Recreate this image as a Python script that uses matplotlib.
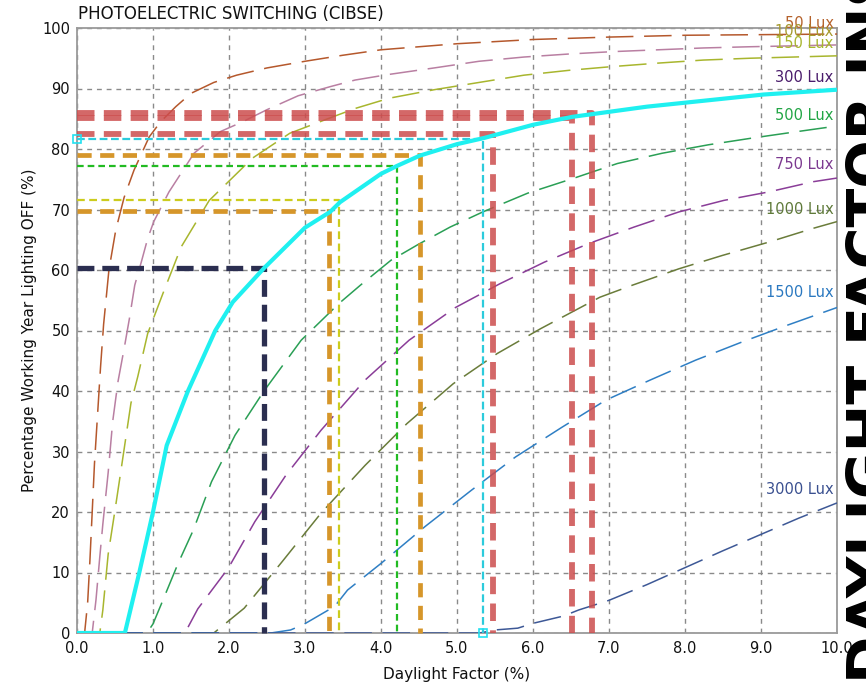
import matplotlib
matplotlib.use("Agg")
import matplotlib.pyplot as plt

# ---------------- data ----------------
df_50 = [0, 0.10, 0.14, 0.17, 0.20, 0.23, 0.27, 0.31, 0.35, 0.42, 0.51, 0.62, 0.75, 0.95, 1.10, 1.30,
         1.50, 1.80, 2.10, 2.50, 3.00, 3.50, 4.00, 5.00, 6.00, 7.00, 8.00, 9.00, 10.0]
pct_50 = [0, 0, 5, 12, 20, 28, 36, 44, 51, 60, 66.6, 72, 76.5, 82, 84.5, 87,
          89.2, 91, 92.2, 93.4, 94.5, 95.5, 96.4, 97.4, 98.1, 98.5, 98.8, 98.9, 99.0]

df_100 = [0, 0.20, 0.25, 0.30, 0.34, 0.41, 0.47, 0.54, 0.62, 0.69, 0.76, 0.85, 0.93, 1.01, 1.21, 1.37,
          1.54, 1.89, 2.18, 2.50, 2.91, 3.33, 3.66, 4.09, 4.70, 5.29, 5.88, 6.47, 7.06, 7.65, 8.24, 8.85, 10.0]
pct_100 = [0, 0, 5.5, 12.6, 18, 26.5, 35, 41.6, 47, 52, 57.5, 61.5, 65.2, 68, 72.9, 76,
           79.3, 82.9, 84.5, 86.5, 88.8, 90.3, 91.4, 92.3, 93.4, 94.5, 95.2, 95.7, 96.1, 96.4, 96.7, 96.9, 97.2]

df_150 = [0, 0.30, 0.34, 0.41, 0.50, 0.58, 0.71, 0.80, 0.93, 1.13, 1.37, 1.74, 2.31, 2.80, 3.30, 3.66,
          4.11, 4.70, 5.29, 5.88, 6.47, 7.02, 7.65, 8.24, 8.85, 10.0]
pct_150 = [0, 0, 3.8, 13, 20.3, 27, 38, 42.4, 49.5, 56.1, 63.8, 71.5, 78.5, 82.6, 85, 86.7,
           88.4, 89.8, 91, 92.2, 93, 93.6, 94.2, 94.7, 95, 95.4]

df_300 = [0, 0.63, 0.82, 1.00, 1.18, 1.46, 1.82, 2.05, 2.46, 3.00, 3.33, 3.46, 4.00, 4.21, 4.51,
          5.00, 5.35, 6.00, 6.51, 7.50, 9.03, 10.0]
pct_300 = [0, 0, 10, 20, 31, 40, 50, 54.7, 60.3, 67, 69.6, 71.2, 75.9, 77.2, 78.9,
           80.8, 81.8, 84, 85.3, 87, 89, 89.8]

df_500 = [0, 0.92, 1.00, 1.10, 1.33, 1.53, 1.77, 2.08, 2.46, 2.95, 3.45, 3.73, 4.13, 4.50, 4.91,
          5.34, 5.93, 6.52, 7.11, 7.70, 8.31, 8.88, 9.49, 10.0]
pct_500 = [0, 0, 1.5, 4.5, 11.5, 17, 25, 32.7, 40, 48.4, 54.5, 57.5, 61.6, 64.3, 67.1,
           69.6, 72.7, 75.1, 77.6, 79.3, 80.7, 81.8, 82.9, 83.8]

df_750 = [0, 1.42, 1.59, 1.99, 2.34, 2.75, 3.21, 3.79, 4.37, 4.98, 5.56, 6.15, 6.74, 7.33, 7.92,
          8.51, 9.10, 9.69, 10.0]
pct_750 = [0, 0, 4, 10.7, 18.4, 26.1, 33.5, 41.8, 48.4, 53.8, 57.7, 61.3, 64.4, 67.1, 69.6,
           71.5, 72.9, 74.6, 75.2]

df_1000 = [0, 1.80, 2.20, 2.70, 3.21, 3.79, 4.34, 4.95, 5.53, 6.10, 6.88, 7.31, 7.92, 8.49, 9.10, 9.69, 10.0]
pct_1000 = [0, 0, 4.1, 11.8, 19.8, 27.7, 34.6, 41.2, 46.2, 50.3, 55.5, 57.5, 60.2, 62.4, 64.6, 66.9, 68]

df_1500 = [0, 2.55, 2.81, 2.98, 3.39, 3.56, 4.00, 4.58, 5.19, 5.77, 6.38, 6.96, 7.54, 8.14, 8.75, 9.33, 10.0]
pct_1500 = [0, 0, 0.5, 1.4, 4.4, 7.1, 11.5, 17.6, 23.6, 29.1, 34, 38.5, 41.8, 45.1, 48.1, 50.8, 53.8]

df_3000 = [0, 5.30, 5.50, 5.80, 6.00, 6.40, 6.60, 7.00, 7.50, 8.00, 8.50, 9.00, 9.50, 10.0]
pct_3000 = [0, 0, 0.5, 0.8, 1.6, 2.8, 3.8, 5.4, 8.0, 10.8, 13.6, 16.3, 19.0, 21.5]

lux_names = ["50 Lux", "100 Lux", "150 Lux", "300 Lux", "500 Lux", "750 Lux",
             "1000 Lux", "1500 Lux", "3000 Lux"]

# reference (read-off) lines: daylight factor and percentage
ref_df = [2.46, 3.32, 3.45, 4.21, 4.51, 5.34, 5.48, 6.51, 6.78]
ref_pct = [60.4, 69.7, 71.5, 77.2, 79.0, 81.6, 82.5, 85.2, 85.9]

x_ticks = [0, 1, 2, 3, 4, 5, 6, 7, 8, 9, 10]
x_tick_labels = ["0.0", "1.0", "2.0", "3.0", "4.0", "5.0", "6.0", "7.0", "8.0", "9.0", "10.0"]
y_ticks = [0, 10, 20, 30, 40, 50, 60, 70, 80, 90, 100]

title = "PHOTOELECTRIC SWITCHING (CIBSE)"
xlabel = "Daylight Factor (%)"
ylabel = "Percentage Working Year Lighting OFF (%)"
side_text = "DAYLIGHT FACTOR INS"

# ---------------- figure ----------------
W, H, DPI = 866, 685, 100
fig = plt.figure(figsize=(W / DPI, H / DPI), dpi=DPI)
fig.patch.set_facecolor("white")
L, R, T, B = 77, 837, 28, 633
ax = fig.add_axes([L / W, (H - B) / H, (R - L) / W, (B - T) / H])
ax.set_xlim(0, 10)
ax.set_ylim(0, 100)

for s in ax.spines.values():
    s.set_color("#9a9a9a")
    s.set_linewidth(1.3)

ax.set_xticks(x_ticks)
ax.set_xticklabels(x_tick_labels)
ax.set_yticks(y_ticks)
ax.tick_params(length=0, labelsize=10.5, colors="#111111")
ax.tick_params(axis="x", pad=6)
ax.tick_params(axis="y", pad=5)
ax.grid(True, color="#8a8a8a", linestyle=(0, (3.5, 3.5)), linewidth=1.0)
ax.set_axisbelow(True)

curves = [
    (df_50, pct_50, "#b5582c"),
    (df_100, pct_100, "#b97fa2"),
    (df_150, pct_150, "#a8b62e"),
    (df_500, pct_500, "#2a9f55"),
    (df_750, pct_750, "#8a3d98"),
    (df_1000, pct_1000, "#6a7c3a"),
    (df_1500, pct_1500, "#2f7fc4"),
    (df_3000, pct_3000, "#3d5896"),
]
for xs, ys, c in curves:
    ax.plot(xs, ys, color=c, lw=1.1, linestyle=(0, (18, 7)), zorder=3)

# highlighted 300 lux curve
ax.plot(df_300, pct_300, color="#1ff0f0", lw=3.0, solid_capstyle="butt", zorder=6)

# reference lines
ref_styles = [
    dict(color="#2b2e50", lw=3.8, ls=(0, (3.2, 1.5)), alpha=1.0),
    dict(color="#d6962a", lw=3.4, ls=(0, (3.0, 1.8)), alpha=1.0),
    dict(color="#cccc1e", lw=1.6, ls=(0, (3.5, 2.0)), alpha=1.0),
    dict(color="#22bb22", lw=1.6, ls=(0, (3.0, 1.8)), alpha=1.0),
    dict(color="#d6962a", lw=3.4, ls=(0, (3.0, 1.8)), alpha=1.0),
    dict(color="#2ccbdc", lw=1.6, ls=(0, (3.5, 1.6)), alpha=1.0),
    dict(color="#cc4d4d", lw=4.2, ls=(0, (3.0, 1.6)), alpha=0.85),
    dict(color="#cc4d4d", lw=4.2, ls=(0, (3.0, 1.6)), alpha=0.85),
    dict(color="#cc4d4d", lw=4.2, ls=(0, (3.0, 1.6)), alpha=0.85),
]
for xv, yv, st in zip(ref_df, ref_pct, ref_styles):
    ax.plot([0, xv, xv], [yv, yv, 0], color=st["color"], lw=st["lw"], linestyle=st["ls"],
            alpha=st["alpha"], zorder=5, clip_on=False)

# small cyan square markers at the ends of the cyan reference line
ax.plot([0, ref_df[5]], [ref_pct[5], 0], linestyle="none", marker="s", markersize=6,
        markerfacecolor="none", markeredgecolor="#22e0f0", markeredgewidth=1.2,
        zorder=7, clip_on=False)

# lux labels (right aligned at the right edge)
label_y = [100.8, 99.4, 97.5, 91.8, 85.6, 77.4, 70.0, 56.3, 23.8]
label_c = ["#b5622c", "#a79a2e", "#a8b62e", "#4a1c6c", "#22a545", "#7c3a90",
           "#5f7a3a", "#2a78c0", "#3a5090"]
for name, yv, c in zip(lux_names, label_y, label_c):
    ax.text(9.955, yv, name, ha="right", va="center", fontsize=10.5, color=c,
            zorder=8, clip_on=False)

fig.text(L / W + 0.001, 1 - 14 / H, title, ha="left", va="center", fontsize=12, color="#111111")
fig.text((L + R) / 2 / W, 1 - 674 / H, xlabel, ha="center", va="center", fontsize=11, color="#111111")
fig.text(30 / W, 1 - ((T + B) / 2) / H, ylabel, ha="center", va="center", rotation=90,
         fontsize=11, color="#111111")

fig.text(889 / W, 1 - 683 / H, side_text, rotation=90, rotation_mode="anchor",
         ha="left", va="baseline", fontsize=41, fontweight="bold", color="black")

fig.savefig("out.png", dpi=DPI)
